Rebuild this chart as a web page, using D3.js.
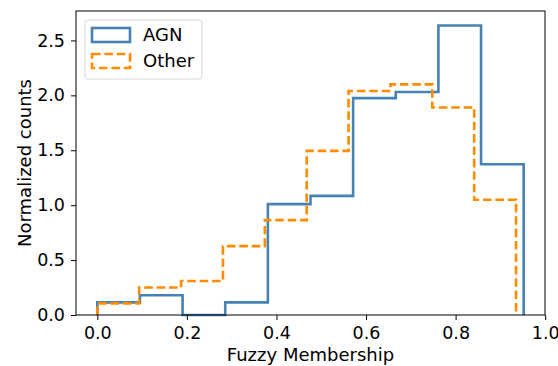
<!DOCTYPE html>
<html>
<head>
<meta charset="utf-8">
<script src="https://cdn.jsdelivr.net/npm/d3@7"></script>
<style>
  body { margin: 0; background: #fff; }
  text { font-family: "DejaVu Sans", sans-serif; fill: #000; }
</style>
</head>
<body>
<svg id="chart" width="558" height="366"></svg>
<script>
// bin edges and normalized heights
var agnEdges = [0, 0.0952, 0.1904, 0.2856, 0.3808, 0.476, 0.5712, 0.6664, 0.7616, 0.8568, 0.952];
var agnCounts = [0.115, 0.18, 0, 0.115, 1.01, 1.085, 1.975, 2.03, 2.636, 1.373];
var otherEdges = [0, 0.0935, 0.187, 0.2805, 0.374, 0.4675, 0.561, 0.6545, 0.748, 0.8415, 0.935];
var otherCounts = [0.106, 0.25, 0.31, 0.627, 0.864, 1.494, 2.04, 2.1, 1.89, 1.05];
var xTicks = [0, 0.2, 0.4, 0.6, 0.8, 1.0];
var yTicks = [0, 0.5, 1.0, 1.5, 2.0, 2.5];

var svg = d3.select("#chart");
var plotLeft = 76, plotRight = 545, plotTop = 11, plotBottom = 315;

var x = d3.scaleLinear().domain([-0.0476, 0.9996]).range([plotLeft, plotRight]);
var y = d3.scaleLinear().domain([0, 2.768]).range([plotBottom, plotTop]);

// step outline like matplotlib histtype='step'
function stepPoints(edges, counts) {
    var pts = [[edges[0], 0]];
    counts.forEach(function(c, i) {
        pts.push([edges[i], c]);
        pts.push([edges[i + 1], c]);
    });
    pts.push([edges[edges.length - 1], 0]);
    return pts;
}
var line = d3.line().x(function(d) { return x(d[0]); }).y(function(d) { return y(d[1]); });

svg.append("path")
    .attr("d", line(stepPoints(agnEdges, agnCounts)))
    .attr("fill", "none")
    .attr("stroke", "steelblue")
    .attr("stroke-width", 2.6);

svg.append("path")
    .attr("d", line(stepPoints(otherEdges, otherCounts)))
    .attr("fill", "none")
    .attr("stroke", "darkorange")
    .attr("stroke-width", 2.6)
    .attr("stroke-dasharray", "8.6,3.8");

// axes
var xAxis = svg.append("g").attr("transform", "translate(0," + plotBottom + ")")
    .call(d3.axisBottom(x).tickValues(xTicks).tickFormat(d3.format(".1f")).tickSizeOuter(0).tickSize(5).tickPadding(6.5));
var yAxis = svg.append("g").attr("transform", "translate(" + plotLeft + ",0)")
    .call(d3.axisLeft(y).tickValues(yTicks).tickFormat(d3.format(".1f")).tickSizeOuter(0).tickSize(5).tickPadding(6));
[xAxis, yAxis].forEach(function(a) {
    a.select(".domain").remove();
    a.selectAll("line").attr("stroke", "#000").attr("stroke-width", 1);
    a.selectAll("text").attr("font-size", 17.5).attr("font-family", "DejaVu Sans");
});

// frame
svg.append("rect")
    .attr("x", plotLeft).attr("y", plotTop)
    .attr("width", plotRight - plotLeft).attr("height", plotBottom - plotTop)
    .attr("fill", "none").attr("stroke", "#000").attr("stroke-width", 1);

// labels
svg.append("text")
    .attr("x", (plotLeft + plotRight) / 2).attr("y", 361)
    .attr("text-anchor", "middle").attr("font-size", 18)
    .text("Fuzzy Membership");
svg.append("text")
    .attr("transform", "translate(31," + ((plotTop + plotBottom) / 2) + ") rotate(-90)")
    .attr("text-anchor", "middle").attr("font-size", 18)
    .text("Normalized counts");

// legend
var legend = svg.append("g");
legend.append("rect")
    .attr("x", 85).attr("y", 20).attr("width", 117).attr("height", 59).attr("rx", 3)
    .attr("fill", "#fff").attr("fill-opacity", 0.8)
    .attr("stroke", "#d6d6d6").attr("stroke-width", 1);
var items = [
    {name: "AGN", color: "steelblue", dash: null},
    {name: "Other", color: "darkorange", dash: "8.6,3.8"}
];
items.forEach(function(it, i) {
    var cy = 35 + i * 26;
    legend.append("rect")
        .attr("x", 92).attr("y", cy - 7).attr("width", 38).attr("height", 14)
        .attr("fill", "none").attr("stroke", it.color).attr("stroke-width", 2.6)
        .attr("stroke-dasharray", it.dash);
    legend.append("text")
        .attr("x", 143).attr("y", cy).attr("dy", "0.36em")
        .attr("font-size", 18)
        .text(it.name);
});
</script>
</body>
</html>
